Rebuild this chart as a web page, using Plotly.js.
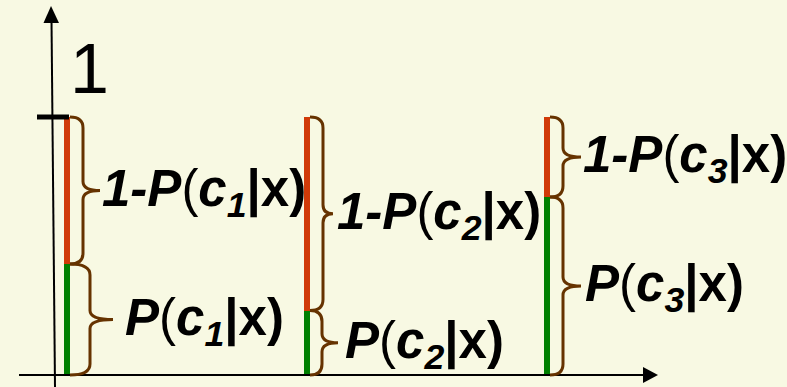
<!DOCTYPE html>
<html>
<head>
<meta charset="utf-8">
<script src="https://cdn.plot.ly/plotly-3.0.1.min.js"></script>
<style>
  html, body { margin: 0; padding: 0; background: #f8f9e3; }
  #chart { width: 787px; height: 387px; }
</style>
</head>
<body>
<div id="chart"></div>
<script>
// Class indices shown as subscripts, and the posterior P(c_k|x) of each class.
const classIndex = ['1', '2', '3'];
const posterior = [0.43, 0.25, 0.69];
// Remaining probability mass above each posterior, so every bar reaches 1.
const complement = posterior.map(p => 1 - p);

// ---- figure geometry (pixels) ----
const W = 787, H = 387;
const Y0_PX = 375;          // pixel row of probability 0
const UNIT_PX = 258;        // pixels per unit of probability
const X0_PX = 67;           // pixel column of the first bar
const STEP_PX = 240;        // pixels between neighbouring bars

const xRange = [-X0_PX / STEP_PX, (W - X0_PX) / STEP_PX];
const yRange = [-(H - Y0_PX) / UNIT_PX, Y0_PX / UNIT_PX];
const px2x = px => (px - X0_PX) / STEP_PX;
const py2y = py => (Y0_PX - py) / UNIT_PX;
const dx = px => px / STEP_PX;
const dy = px => px / UNIT_PX;

const RED = '#d03a08';
const GREEN = '#008000';
const BROWN = '#663300';
const FONT = 'Liberation Sans, Arial, sans-serif';
const LABEL_SIZE = 51;

const xs = classIndex.map((_, i) => i);

const traces = [
  {
    type: 'bar', x: xs, y: posterior, width: dx(5.5),
    marker: { color: GREEN, line: { width: 0 } }, hoverinfo: 'skip'
  },
  {
    type: 'bar', x: xs, y: complement, width: dx(5.5),
    marker: { color: RED, line: { width: 0 } }, hoverinfo: 'skip'
  }
];

// Curly brace "}" beside bar i spanning [lo, hi], stem and tip offsets in px.
function brace(i, lo, hi, stemPx, tipPx) {
  const x0 = i + dx(3), xs_ = i + dx(stemPx), xt = i + dx(tipPx);
  const mid = (lo + hi) / 2;
  const re = dy(11), rm = dy(9);
  const path =
    `M ${x0},${hi} Q ${xs_},${hi} ${xs_},${hi - re} ` +
    `L ${xs_},${mid + rm} Q ${xs_},${mid} ${xt},${mid} ` +
    `Q ${xs_},${mid} ${xs_},${mid - rm} ` +
    `L ${xs_},${lo + re} Q ${xs_},${lo} ${x0},${lo}`;
  return {
    type: 'path', xref: 'x', yref: 'y', path: path,
    line: { color: BROWN, width: 3 }, layer: 'above'
  };
}

// Brace layout per bar: [lower stem, lower tip, upper stem, upper tip]
const braceGeom = [[23, 46, 16, 33], [15, 31, 16, 26], [16, 34, 16, 34]];
// Label start offsets per bar: [lower, upper]
const labelGeom = [[57, 34], [37, 29], [37, 35]];

const shapes = [];
const annotations = [];

// Axes drawn as plain lines with arrowheads.
shapes.push({
  type: 'line', xref: 'x', yref: 'y',
  x0: px2x(51.5), y0: py2y(20), x1: px2x(55), y1: py2y(H),
  line: { color: '#000', width: 2 }
});
shapes.push({
  type: 'path', xref: 'x', yref: 'y',
  path: `M ${px2x(51)},${py2y(6)} L ${px2x(43.5)},${py2y(23)} L ${px2x(59)},${py2y(23)} Z`,
  fillcolor: '#000', line: { width: 0 }
});
shapes.push({
  type: 'line', xref: 'x', yref: 'y',
  x0: px2x(19), y0: 0, x1: px2x(645), y1: 0,
  line: { color: '#000', width: 2 }
});
shapes.push({
  type: 'path', xref: 'x', yref: 'y',
  path: `M ${px2x(658)},0 L ${px2x(643)},${dy(8)} L ${px2x(643)},${-dy(8)} Z`,
  fillcolor: '#000', line: { width: 0 }
});
// Tick mark at probability 1.
shapes.push({
  type: 'line', xref: 'x', yref: 'y',
  x0: px2x(37), y0: 1, x1: px2x(69), y1: 1,
  line: { color: '#000', width: 5 }, layer: 'above'
});

annotations.push({
  xref: 'x', yref: 'y', x: px2x(89), y: 1, yshift: 48,
  text: '1', showarrow: false, xanchor: 'center', yanchor: 'middle',
  font: { family: FONT, size: 70, color: '#000' }
});

posterior.forEach((p, i) => {
  const g = braceGeom[i], l = labelGeom[i];
  shapes.push(brace(i, 0, p, g[0], g[1]));
  shapes.push(brace(i, p, 1, g[2], g[3]));
  const k = classIndex[i];
  const pTxt = `<b><i>P</i></b>(<b><i>c<sub>${k}</sub></i>|x)</b>`;
  const qTxt = `<b><i>1-P</i></b>(<b><i>c<sub>${k}</sub></i>|x)</b>`;
  annotations.push({
    xref: 'x', yref: 'y', x: i, y: p / 2, xshift: l[0], yshift: -2,
    text: pTxt, showarrow: false, xanchor: 'left', yanchor: 'middle', borderpad: 0,
    font: { family: FONT, size: LABEL_SIZE, color: '#000' }
  });
  annotations.push({
    xref: 'x', yref: 'y', x: i, y: (p + 1) / 2, xshift: l[1], yshift: -2,
    text: qTxt, showarrow: false, xanchor: 'left', yanchor: 'middle', borderpad: 0,
    font: { family: FONT, size: LABEL_SIZE, color: '#000' }
  });
});

const layout = {
  width: W, height: H,
  margin: { l: 0, r: 0, t: 0, b: 0, pad: 0 },
  paper_bgcolor: '#f8f9e3', plot_bgcolor: '#f8f9e3',
  barmode: 'stack', showlegend: false,
  xaxis: { range: xRange, visible: false, fixedrange: true },
  yaxis: { range: yRange, visible: false, fixedrange: true },
  shapes: shapes, annotations: annotations
};

Plotly.newPlot('chart', traces, layout, { staticPlot: true, displayModeBar: false });
</script>
</body>
</html>
